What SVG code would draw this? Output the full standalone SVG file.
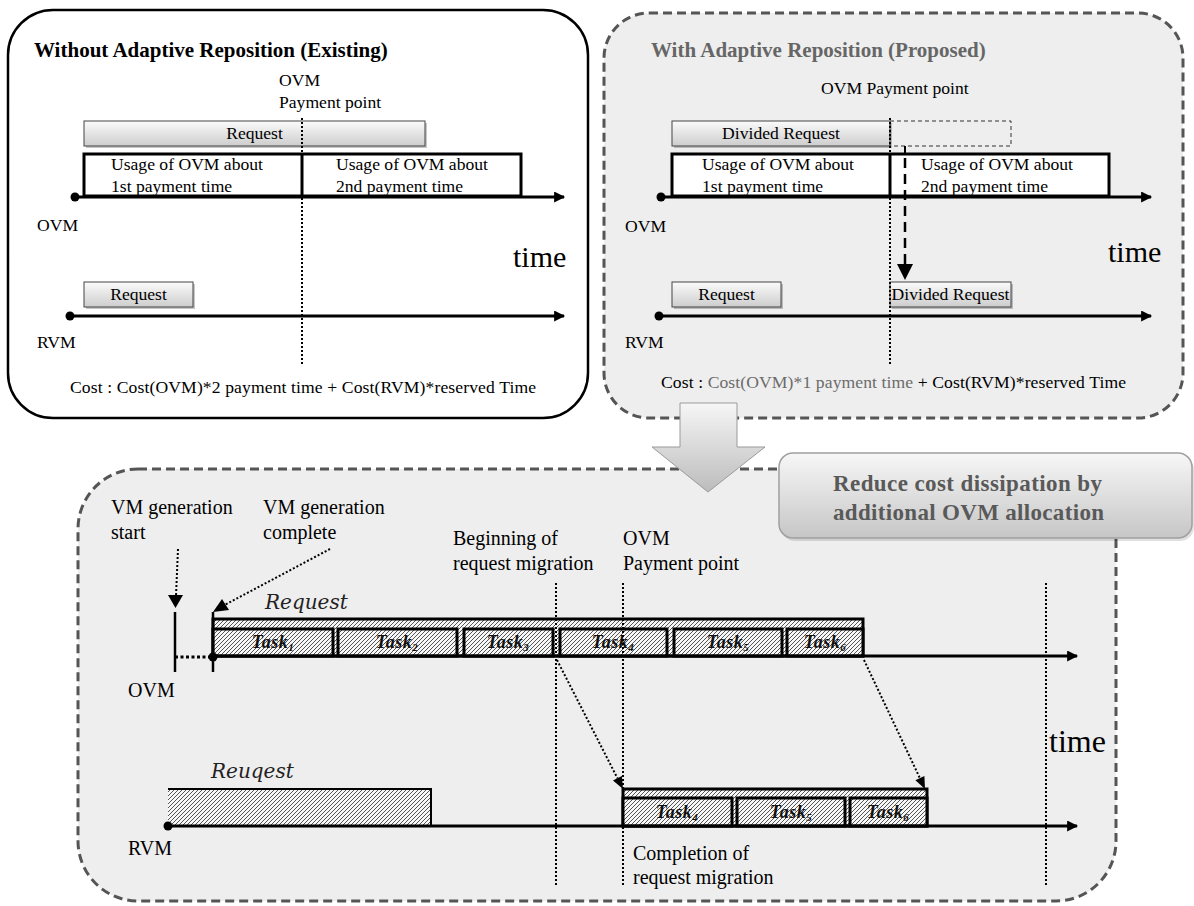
<svg xmlns="http://www.w3.org/2000/svg" width="1194" height="906" viewBox="0 0 1194 906">
<defs>
  <linearGradient id="barGrad" x1="0" y1="0" x2="0" y2="1">
    <stop offset="0" stop-color="#fbfbfb"/>
    <stop offset="1" stop-color="#cdcdcd"/>
  </linearGradient>
  <linearGradient id="arrowGrad" x1="0" y1="0" x2="0" y2="1">
    <stop offset="0" stop-color="#f6f6f6"/>
    <stop offset="1" stop-color="#bcbcbc"/>
  </linearGradient>
  <linearGradient id="calloutGrad" x1="0" y1="0" x2="0" y2="1">
    <stop offset="0" stop-color="#f7f7f7"/>
    <stop offset="1" stop-color="#c6c6c6"/>
  </linearGradient>
  <pattern id="hatch" width="4" height="4" patternUnits="userSpaceOnUse">
    <rect width="4" height="4" fill="#f7f7f7"/>
    <path d="M-1,1 L1,-1 M0,4 L4,0 M3,5 L5,3" stroke="#555" stroke-width="1"/>
  </pattern>
  <marker id="ah" viewBox="0 0 10 10" refX="9" refY="5" markerWidth="13" markerHeight="11" orient="auto" markerUnits="userSpaceOnUse">
    <path d="M0,0 L10,5 L0,10 z" fill="#000"/>
  </marker>
</defs>
<style>
  .t{font-family:"Liberation Serif","Times New Roman",serif;fill:#000}
  .s17{font-size:17.6px}
  .s20{font-size:20px}
  .b20{font-size:21px;font-weight:bold}
  .big{font-size:30px}
  .mi{font-family:"DejaVu Serif",serif;font-style:italic;font-size:20px;fill:#222}
  .task{font-family:"Liberation Serif","Times New Roman",serif;font-style:italic;font-weight:bold;font-size:18px;fill:#111;letter-spacing:0.5px}
  .sub{font-size:11px}
  .bar{fill:url(#barGrad);stroke:#444;stroke-width:1}
  .shadow{fill:#000;opacity:0.22}
  .usage{fill:#fff;stroke:#000;stroke-width:3}
  .axis{stroke:#000;stroke-width:3;fill:none}
  .dotl{stroke:#000;stroke-width:2;stroke-dasharray:2 2;fill:none}
  .thick{stroke:#000;stroke-width:3;fill:none}
  .hbox{fill:url(#hatch);stroke:#000;stroke-width:3}
  .panelD{fill:#eeeeee;stroke:#555;stroke-width:3;stroke-dasharray:9 5}
</style>

<!-- Top-left panel: existing -->
<g id="panel-existing">
  <rect x="8" y="10" width="580" height="408" rx="45" fill="#fff" stroke="#000" stroke-width="2.5"/>
  <text x="34" y="57" class="t b20">Without Adaptive Reposition (Existing)</text>
  <text x="279" y="86" class="t s17">OVM</text>
  <text x="279" y="108" class="t s17">Payment point</text>
  <g id="ex-request">
    <rect x="86" y="123" width="341" height="25" class="shadow"/>
    <rect x="84" y="121" width="341" height="25" class="bar"/>
    <text x="254.5" y="139" text-anchor="middle" class="t s17">Request</text>
  </g>
  <g id="ex-usage">
    <rect x="84" y="154" width="437" height="42" class="usage"/>
    <line x1="302" y1="154" x2="302" y2="196" class="thick"/>
    <text x="111" y="170" class="t s17">Usage of OVM about</text>
    <text x="111" y="192" class="t s17">1st payment time</text>
    <text x="336" y="170" class="t s17">Usage of OVM about</text>
    <text x="336" y="192" class="t s17">2nd payment time</text>
  </g>
  <text x="37" y="231" class="t s17">OVM</text>
  <text x="513" y="267" class="t big">time</text>
  <g id="ex-rvm-request">
    <rect x="86" y="284" width="109" height="25" class="shadow"/>
    <rect x="84" y="282" width="109" height="25" class="bar"/>
    <text x="138.5" y="300" text-anchor="middle" class="t s17">Request</text>
  </g>
  <text x="37" y="348" class="t s17">RVM</text>
  <text x="70" y="393" class="t s17" textLength="466" lengthAdjust="spacing">Cost : Cost(OVM)*2 payment time + Cost(RVM)*reserved Time</text>
</g>

<!-- Top-right panel: proposed -->
<g id="panel-proposed">
  <rect x="604" y="13" width="579" height="405" rx="45" class="panelD"/>
  <text x="651" y="57" class="t b20" style="fill:#666">With Adaptive Reposition (Proposed)</text>
  <text x="821" y="94" class="t s17">OVM Payment point</text>
  <g id="pr-divided">
    <rect x="674" y="123" width="218" height="25" class="shadow"/>
    <rect x="672" y="121" width="218" height="25" class="bar"/>
    <text x="781" y="139" text-anchor="middle" class="t s17">Divided Request</text>
    <rect x="890" y="121" width="121" height="25" fill="none" stroke="#333" stroke-width="1" stroke-dasharray="4 3"/>
  </g>
  <g id="pr-usage">
    <rect x="672" y="154" width="437" height="42" class="usage"/>
    <line x1="890" y1="154" x2="890" y2="196" class="thick"/>
    <text x="702" y="170" class="t s17">Usage of OVM about</text>
    <text x="702" y="192" class="t s17">1st payment time</text>
    <text x="921" y="170" class="t s17">Usage of OVM about</text>
    <text x="921" y="192" class="t s17">2nd payment time</text>
  </g>
  <text x="625" y="232" class="t s17">OVM</text>
  <text x="1108" y="262" class="t big">time</text>
  <g id="pr-rvm-request">
    <rect x="674" y="284" width="109" height="25" class="shadow"/>
    <rect x="672" y="282" width="109" height="25" class="bar"/>
    <text x="726.5" y="300" text-anchor="middle" class="t s17">Request</text>
  </g>
  <g id="pr-rvm-divided">
    <rect x="892" y="284" width="121" height="25" class="shadow"/>
    <rect x="890" y="282" width="121" height="25" class="bar"/>
    <text x="950.5" y="300" text-anchor="middle" class="t s17">Divided Request</text>
  </g>
  <text x="625" y="348" class="t s17">RVM</text>
  <text x="661" y="388" class="t s17" textLength="465" lengthAdjust="spacing">Cost : <tspan style="fill:#6b6b6b">Cost(OVM)*1 payment time</tspan> + Cost(RVM)*reserved Time</text>
</g>

<!-- Bottom panel: detail -->
<g id="panel-detail">
  <rect x="78" y="469" width="1038" height="432" rx="60" class="panelD"/>
  <text x="111" y="514" class="t s20">VM generation</text>
  <text x="111" y="539" class="t s20">start</text>
  <text x="263" y="514" class="t s20">VM generation</text>
  <text x="263" y="539" class="t s20">complete</text>
  <text x="453" y="545" class="t s20">Beginning of</text>
  <text x="453" y="570" class="t s20">request migration</text>
  <text x="623" y="545" class="t s20">OVM</text>
  <text x="623" y="570" class="t s20">Payment point</text>
  <text x="633" y="860" class="t s20">Completion of</text>
  <text x="633" y="884" class="t s20">request migration</text>
  <text x="1049" y="752" class="t" font-size="32">time</text>
  <text x="128" y="697" class="t s20">OVM</text>
  <text x="128" y="855" class="t s20">RVM</text>
  <text x="265" y="609" class="mi">Request</text>
  <text x="211" y="778" class="mi">Reuqest</text>

  <g id="ovm-request">
    <rect x="213" y="619" width="650" height="37" class="hbox"/>
    <rect x="213" y="629" width="120" height="27" class="hbox"/>
    <rect x="338" y="629" width="119" height="27" class="hbox"/>
    <rect x="464" y="629" width="89" height="27" class="hbox"/>
    <rect x="560" y="629" width="107" height="27" class="hbox"/>
    <rect x="674" y="629" width="108" height="27" class="hbox"/>
    <rect x="787" y="629" width="76" height="27" class="hbox"/>
    <text x="273" y="648" text-anchor="middle" class="task">Task<tspan class="sub" dy="3">1</tspan></text>
    <text x="397" y="648" text-anchor="middle" class="task">Task<tspan class="sub" dy="3">2</tspan></text>
    <text x="508" y="648" text-anchor="middle" class="task">Task<tspan class="sub" dy="3">3</tspan></text>
    <text x="613" y="648" text-anchor="middle" class="task">Task<tspan class="sub" dy="3">4</tspan></text>
    <text x="728" y="648" text-anchor="middle" class="task">Task<tspan class="sub" dy="3">5</tspan></text>
    <text x="825" y="648" text-anchor="middle" class="task">Task<tspan class="sub" dy="3">6</tspan></text>
  </g>

  <g id="rvm-request">
    <rect x="168" y="789" width="263" height="37" fill="url(#hatch)"/>
    <path d="M168,789 L431,789 L431,826" fill="none" stroke="#000" stroke-width="2"/>
  </g>

  <g id="rvm-migrated">
    <rect x="623" y="789" width="304" height="37" class="hbox"/>
    <rect x="623" y="798" width="109" height="28" class="hbox"/>
    <rect x="737" y="798" width="108" height="28" class="hbox"/>
    <rect x="850" y="798" width="77" height="28" class="hbox"/>
    <text x="677" y="818" text-anchor="middle" class="task">Task<tspan class="sub" dy="3">4</tspan></text>
    <text x="791" y="818" text-anchor="middle" class="task">Task<tspan class="sub" dy="3">5</tspan></text>
    <text x="888" y="818" text-anchor="middle" class="task">Task<tspan class="sub" dy="3">6</tspan></text>
  </g>
</g>

<!-- Transition arrow -->
<g id="transition-arrow">
  <polygon points="680,403 737,403 737,447 765,447 708,492 652,447 680,447" fill="url(#arrowGrad)" stroke="#9a9a9a" stroke-width="1"/>
</g>

<!-- Callout -->
<g id="callout">
  <rect x="781" y="456" width="413" height="85" rx="14" fill="#000" opacity="0.12"/>
  <rect x="779" y="453" width="413" height="85" rx="14" fill="url(#calloutGrad)" stroke="#a0a0a0" stroke-width="1.5"/>
  <text x="833" y="491" class="t" font-size="23" font-weight="bold" style="fill:#595959" textLength="269" lengthAdjust="spacing">Reduce cost dissipation by</text>
  <text x="833" y="520" class="t" font-size="23" font-weight="bold" style="fill:#595959" textLength="271" lengthAdjust="spacing">additional OVM allocation</text>
</g>

<!-- Connectors -->
<g id="connectors">
  <!-- top-left -->
  <line x1="302" y1="118" x2="302" y2="365" class="dotl"/>
  <line x1="75" y1="197" x2="564" y2="197" class="axis" marker-end="url(#ah)"/>
  <circle cx="75" cy="197" r="4.5" fill="#000"/>
  <line x1="70" y1="316" x2="564" y2="316" class="axis" marker-end="url(#ah)"/>
  <circle cx="70" cy="316" r="4.5" fill="#000"/>
  <!-- top-right -->
  <line x1="890" y1="118" x2="890" y2="365" class="dotl"/>
  <line x1="661" y1="197" x2="1151" y2="197" class="axis" marker-end="url(#ah)"/>
  <circle cx="661" cy="197" r="4.5" fill="#000"/>
  <line x1="659" y1="316" x2="1151" y2="316" class="axis" marker-end="url(#ah)"/>
  <circle cx="659" cy="316" r="4.5" fill="#000"/>
  <line x1="905" y1="146" x2="905" y2="154" stroke="#000" stroke-width="2"/>
  <line x1="905" y1="158" x2="905" y2="266" stroke="#000" stroke-width="2.5" stroke-dasharray="10 6"/>
  <polygon points="897,264 913,264 905,280" fill="#000"/>
  <!-- bottom -->
  <line x1="556" y1="583" x2="556" y2="885" class="dotl"/>
  <line x1="623" y1="583" x2="623" y2="885" class="dotl"/>
  <line x1="1046" y1="583" x2="1046" y2="885" class="dotl"/>
  <line x1="178" y1="549" x2="176" y2="596" class="dotl"/>
  <polygon points="168,595 183,595 175.5,608" fill="#000"/>
  <line x1="330" y1="549" x2="225.5" y2="604.5" class="dotl"/>
  <polygon points="213,612 229,610 222,599" fill="#000"/>
  <line x1="175" y1="612" x2="175" y2="672" stroke="#000" stroke-width="2.5"/>
  <line x1="213" y1="612" x2="213" y2="672" stroke="#000" stroke-width="2.5"/>
  <line x1="175" y1="657" x2="213" y2="657" stroke="#000" stroke-width="3" stroke-dasharray="3 2.5"/>
  <line x1="213" y1="656" x2="1077" y2="656" class="axis" marker-end="url(#ah)"/>
  <circle cx="213" cy="657" r="4.5" fill="#000"/>
  <line x1="168" y1="826" x2="1077" y2="826" class="axis" marker-end="url(#ah)"/>
  <circle cx="168" cy="826" r="4.5" fill="#000"/>
  <line x1="557" y1="660" x2="617.5" y2="778.3" class="dotl"/>
  <polygon points="623,789 621.9,776 613,780.6" fill="#000"/>
  <line x1="864" y1="660" x2="919.9" y2="778.2" class="dotl"/>
  <polygon points="925,789 924.4,776.1 915.4,780.3" fill="#000"/>
</g>
</svg>
